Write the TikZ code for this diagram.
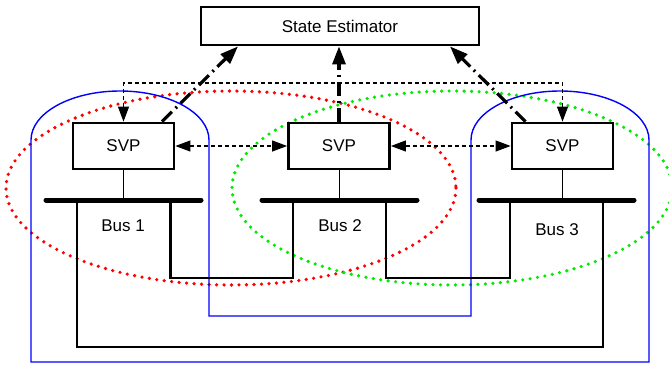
\documentclass[tikz,border=0pt]{standalone}
\usepackage{fontspec}
\setmainfont{Liberation Sans}
\usetikzlibrary{arrows.meta,calc}
\begin{document}
\begin{tikzpicture}[x=1pt,y=-1pt,
  box/.style={draw, line width=2.8pt, inner sep=0pt, font=\fontsize{17}{20}\selectfont},
  svpbox/.style={box, minimum width=101pt, minimum height=46pt},
  busbar/.style={line width=5pt, line cap=round},
  feeder/.style={line width=2.8pt},
  tap/.style={line width=1pt},
  ctrl/.style={line width=1.1pt, dash pattern=on 4pt off 3pt,
    {Triangle[length=15pt,width=11pt]}-{Triangle[length=15pt,width=11pt]}},
  report/.style={line width=3.2pt, dash pattern=on 14pt off 5pt on 2pt off 5pt,
    -{Triangle[length=18pt,width=13pt]}},
  zone/.style={line width=3.6pt, line cap=round, dash pattern=on 0pt off 7.5pt},
  buslabel/.style={font=\fontsize{17}{20}\selectfont, inner sep=0pt}
]
\useasboundingbox (0,0) rectangle (669,364);

% overlapping observation zones
\draw[zone, color={rgb,255:red,255;green,0;blue,0}] (231,188) ellipse [x radius=225, y radius=97];
\draw[zone, color={rgb,255:red,0;green,235;blue,0}] (452,188) ellipse [x radius=220, y radius=97];

% blue enclosure with two arched tops
\draw[blue, line width=1.4pt]
  (31,362) -- (31,140) arc [start angle=180, end angle=360, x radius=89, y radius=49]
  -- (209,316) -- (471,316) -- (471,140)
  arc [start angle=180, end angle=360, x radius=89, y radius=49]
  -- (649,362) -- cycle;

% estimator and processors
\node[box, minimum width=278pt, minimum height=38pt] (se) at (340,26) {State Estimator};
\node[svpbox] (svp1) at (123.5,146) {SVP};
\node[svpbox] (svp2) at (339,146) {SVP};
\node[svpbox] (svp3) at (562.5,146) {SVP};

% bus bars
\coordinate (b1l) at (46,200);  \coordinate (b1r) at (201,200);
\coordinate (b2l) at (262,200); \coordinate (b2r) at (417,200);
\coordinate (b3l) at (479,200); \coordinate (b3r) at (634,200);
\draw[busbar] (b1l) -- (b1r);
\draw[busbar] (b2l) -- (b2r);
\draw[busbar] (b3l) -- (b3r);

\node[buslabel] (bus1) at (123,226) {Bus 1};
\node[buslabel] (bus2) at (340,226) {Bus 2};
\node[buslabel] (bus3) at (557,230) {Bus 3};

% taps from processors to buses
\draw[tap] (svp1.south) -- (svp1.south |- b1l);
\draw[tap] (svp2.south) -- (svp2.south |- b2l);
\draw[tap] (svp3.south) -- (svp3.south |- b3l);

% lines between buses
\coordinate (l13a) at (77,200);  \coordinate (l13b) at (603,200);
\coordinate (l12a) at (170.6,200); \coordinate (l12b) at (293,200);
\coordinate (l23a) at (386,200); \coordinate (l23b) at (510,200);
\draw[feeder] (l13a) -- ++(0,147) -| (l13b);
\draw[feeder] (l12a) -- ++(0,78) -| (l12b);
\draw[feeder] (l23a) -- ++(0,78) -| (l23b);

% coordination links between processors
\coordinate (top) at (339,83);
\draw[ctrl] (svp1.north) |- (top) -| (svp3.north);
\draw[ctrl] (svp1.east) -- (svp2.west);
\draw[ctrl] (svp2.east) -- (svp3.west);

% reports to the estimator
\draw[report] ($(svp1.north)+(38.5,0)$) -- ($(se.south)+(-102,0)$);
\draw[report] (svp2.north) -- (se.south -| svp2.north);
\draw[report] ($(svp3.north)+(-37,0)$) -- ($(se.south)+(110,0)$);
\end{tikzpicture}
\end{document}
